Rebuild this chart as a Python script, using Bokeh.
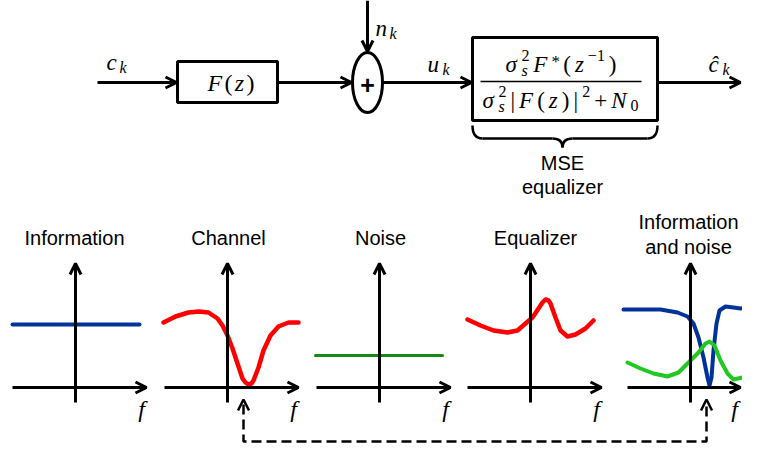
from bokeh.plotting import figure
from bokeh.models import Range1d, Arrow, OpenHead
from bokeh.core.properties import value
from bokeh.embed import file_html
from bokeh.resources import INLINE

# ---------------- data (spectra) ----------------
# f offsets (px from each panel's vertical axis) and magnitudes (px above the f axis)
PANEL_TITLES = ["Information", "Channel", "Noise", "Equalizer", ["Information", "and noise"]]
PANEL_AXIS_X = [75, 227, 379, 530, 690]
PANEL_TITLE_X = [74, 228, 380, 535, 688]

INFO_F = [-63, 64]
INFO_M = [63, 63]

CH_F = [-64, -52, -39, -29, -19, -10, -5, 0, 5, 10, 15, 18, 21, 24, 26, 31, 36, 43, 51, 61, 71]
CH_M = [65, 71, 75, 76, 75, 69, 62, 52, 39, 24, 9, 5, 3, 4, 7, 20, 37, 52, 61, 65, 65]

NOISE_F = [-64, 63]
NOISE_M = [32, 32]

EQ_F = [-63, -50, -37, -23, -13, -5, 2, 8, 12, 15, 18, 20, 25, 30, 37, 45, 55, 63]
EQ_M = [68, 62, 57, 55, 57, 64, 70, 79, 85, 88, 87, 84, 70, 57, 51, 53, 59, 67]

IN_F = [-67, -50, -30, -13, -3, 3, 8, 13, 17, 19, 21, 23, 26, 29, 35, 43, 50, 58, 67]
IN_BLUE = [78, 78, 78, 75, 71, 64, 50, 30, 10, 2, 10, 37, 64, 77, 81, 80, 79, 80, 81]

IG_F = [-63, -50, -37, -23, -12, -2, 8, 15, 19, 24, 30, 37, 43, 52, 60, 67]
IG_M = [25, 19, 14, 11, 15, 25, 35, 44, 46, 42, 27, 14, 8, 10, 15, 24]

# ---------------- styles ----------------
BLUE = "#003399"
RED = "#ff0000"
DGREEN = "#138a13"
LGREEN = "#22c822"
SANS = "Liberation Sans"
SERIF = "Liberation Serif"
LW = 3
AXIS_Y = 387
TEXT_DY = -8
W, H = 742, 445

p = figure(width=W, height=H, output_backend="svg", toolbar_location=None,
           x_range=Range1d(0, W), y_range=Range1d(H, 0),
           x_axis_type=None, y_axis_type=None, min_border=0)
p.grid.visible = False
p.outline_line_color = None
p.background_fill_color = "white"


def arrow(x0, y0, x1, y1, lw=LW, size=11, body_alpha=1.0):
    p.add_layout(Arrow(x_start=x0, y_start=y0, x_end=x1, y_end=y1, line_width=lw,
                       line_color="black", line_alpha=body_alpha,
                       end=OpenHead(size=size, line_width=lw, line_color="black")))


def run(txt, x, y, size=23, style="italic", font=SERIF, align="left"):
    p.text(x=[x], y=[y + TEXT_DY], text=[txt], text_font=value(font),
           text_font_size=value(f"{size}px"), text_font_style=value(style),
           text_align=align, text_baseline="alphabetic", text_color="black")


# approximate advance widths (em) of Liberation Serif
W_IT = {'F': 0.611, 'z': 0.389, 'c': 0.444, 'k': 0.444, 'n': 0.5, 'u': 0.5,
        's': 0.389, 'N': 0.667, 'σ': 0.52, 'ĉ': 0.444}
W_UP = {'(': 0.333, ')': 0.333, '|': 0.2, '+': 0.564, '2': 0.5, '0': 0.5,
        '1': 0.5, '−': 0.564, '*': 0.5}


def tw(text, size):
    return sum(W_IT.get(c, W_UP.get(c, 0.5)) for c in text) * size


def formula(tokens, x0, x1, base, size=23):
    small = round(size * 0.68)
    widths = []
    for t in tokens:
        if t[0] == "m":
            widths.append(tw(t[1], size))
        elif t[0] == "ss":
            widths.append(max(tw(t[1], small), tw(t[2], small)))
        else:
            widths.append(tw(t[1], small))
    gap = (x1 - x0 - sum(widths)) / max(len(tokens) - 1, 1)
    x = x0
    for t, w in zip(tokens, widths):
        if t[0] == "m":
            run(t[1], x, base, size, "italic" if t[2] == "i" else "normal")
        elif t[0] == "sup":
            run(t[1], x, base - 0.37 * size, small, "italic" if t[2] == "i" else "normal")
        elif t[0] == "sub":
            run(t[1], x, base + 0.2 * size, small, "italic" if t[2] == "i" else "normal")
        elif t[0] == "star":
            run(t[1], x, base - 0.15 * size, small + 1, "normal")
        elif t[0] == "ss":
            run(t[1], x, base - 0.37 * size, small, "normal")
            run(t[2], x, base + 0.24 * size, small, "italic")
        x += w + gap


# ---------------- block diagram ----------------
arrow(97, 82, 176, 82)
p.quad(left=[177], right=[277], top=[61], bottom=[102], fill_color=None,
       line_color="black", line_width=LW)
arrow(277, 82, 351, 82)
p.ellipse(x=[367], y=[82], width=30, height=60, fill_color="white",
          line_color="black", line_width=LW)
run("+", 367, 92, size=25, style="bold", font=SANS, align="center")
arrow(367, 0, 367, 51)
arrow(382, 82, 471, 82)
p.quad(left=[472], right=[657], top=[37], bottom=[120], fill_color=None,
       line_color="black", line_width=LW)
arrow(657, 82, 740, 82)

# labels
formula([("m", "c", "i"), ("sub", "k", "i")], 106, 126, 70)
formula([("m", "n", "i"), ("sub", "k", "i")], 375, 396, 36)
formula([("m", "u", "i"), ("sub", "k", "i")], 427, 449, 72)
formula([("m", "ĉ", "i"), ("sub", "k", "i")], 708, 729, 72)
formula([("m", "F", "i"), ("m", "(", "r"), ("m", "z", "i"), ("m", ")", "r")], 207, 254, 90, size=24)

# equalizer fraction
formula([("m", "σ", "i"), ("ss", "2", "s"), ("m", "F", "i"), ("star", "*", "r"),
         ("m", "(", "r"), ("m", "z", "i"), ("sup", "−1", "r"), ("m", ")", "r")],
        505, 616, 72)
p.segment(x0=[480], y0=[81], x1=[641], y1=[81], line_color="black", line_width=1.5)
formula([("m", "σ", "i"), ("ss", "2", "s"), ("m", "|", "r"), ("m", "F", "i"),
         ("m", "(", "r"), ("m", "z", "i"), ("m", ")", "r"), ("m", "|", "r"),
         ("sup", "2", "r"), ("m", "+", "r"), ("m", "N", "i"), ("sub", "0", "r")],
        482, 638, 108)

# brace under the equalizer
p.quadratic(x0=[472, 552, 562, 647], y0=[125, 138, 147, 138],
            x1=[482, 562, 572, 657], y1=[138, 147, 138, 125],
            cx=[472, 562, 562, 657], cy=[138, 138, 138, 138],
            line_color="black", line_width=2.5)
p.segment(x0=[482, 572], y0=[138, 138], x1=[552, 647], y1=[138, 138],
          line_color="black", line_width=2.5)
run("MSE", 562, 170, size=20, style="normal", font=SANS, align="center")
run("equalizer", 562, 194, size=20, style="normal", font=SANS, align="center")

# ---------------- spectra panels ----------------
for ox, tx, title in zip(PANEL_AXIS_X, PANEL_TITLE_X, PANEL_TITLES):
    arrow(ox, 402, ox, 263)
    right = min(ox + 71, W - 2)
    arrow(ox - 63, AXIS_Y, right, AXIS_Y)
    run("f", min(ox + 66, W - 8), 416, size=24, align="center")
    if isinstance(title, list):
        run(title[0], tx, 229, size=20, style="normal", font=SANS, align="center")
        run(title[1], tx, 254, size=20, style="normal", font=SANS, align="center")
    else:
        run(title, tx, 245, size=20, style="normal", font=SANS, align="center")


def curve(ox, F, M, color, lw):
    p.line(x=[ox + f for f in F], y=[AXIS_Y - m for m in M], line_color=color,
           line_width=lw, line_join="round", line_cap="round")


curve(PANEL_AXIS_X[0], INFO_F, INFO_M, BLUE, 4)
curve(PANEL_AXIS_X[1], CH_F, CH_M, RED, 4.5)
curve(PANEL_AXIS_X[2], NOISE_F, NOISE_M, DGREEN, 3)
curve(PANEL_AXIS_X[3], EQ_F, EQ_M, RED, 4.5)
curve(PANEL_AXIS_X[4], IN_F, IN_BLUE, BLUE, 4)
curve(PANEL_AXIS_X[4], IG_F, IG_M, LGREEN, 4)

# dashed link between the channel null and the combined spectrum
p.line(x=[243, 243, 706, 706], y=[404, 441, 441, 404], line_color="black",
       line_width=2.5, line_dash="10 5")
for xx in (243, 706):
    arrow(xx, 406, xx, 399, lw=2.5, body_alpha=0.0)

open("out.html", "w").write(file_html(p, INLINE))
